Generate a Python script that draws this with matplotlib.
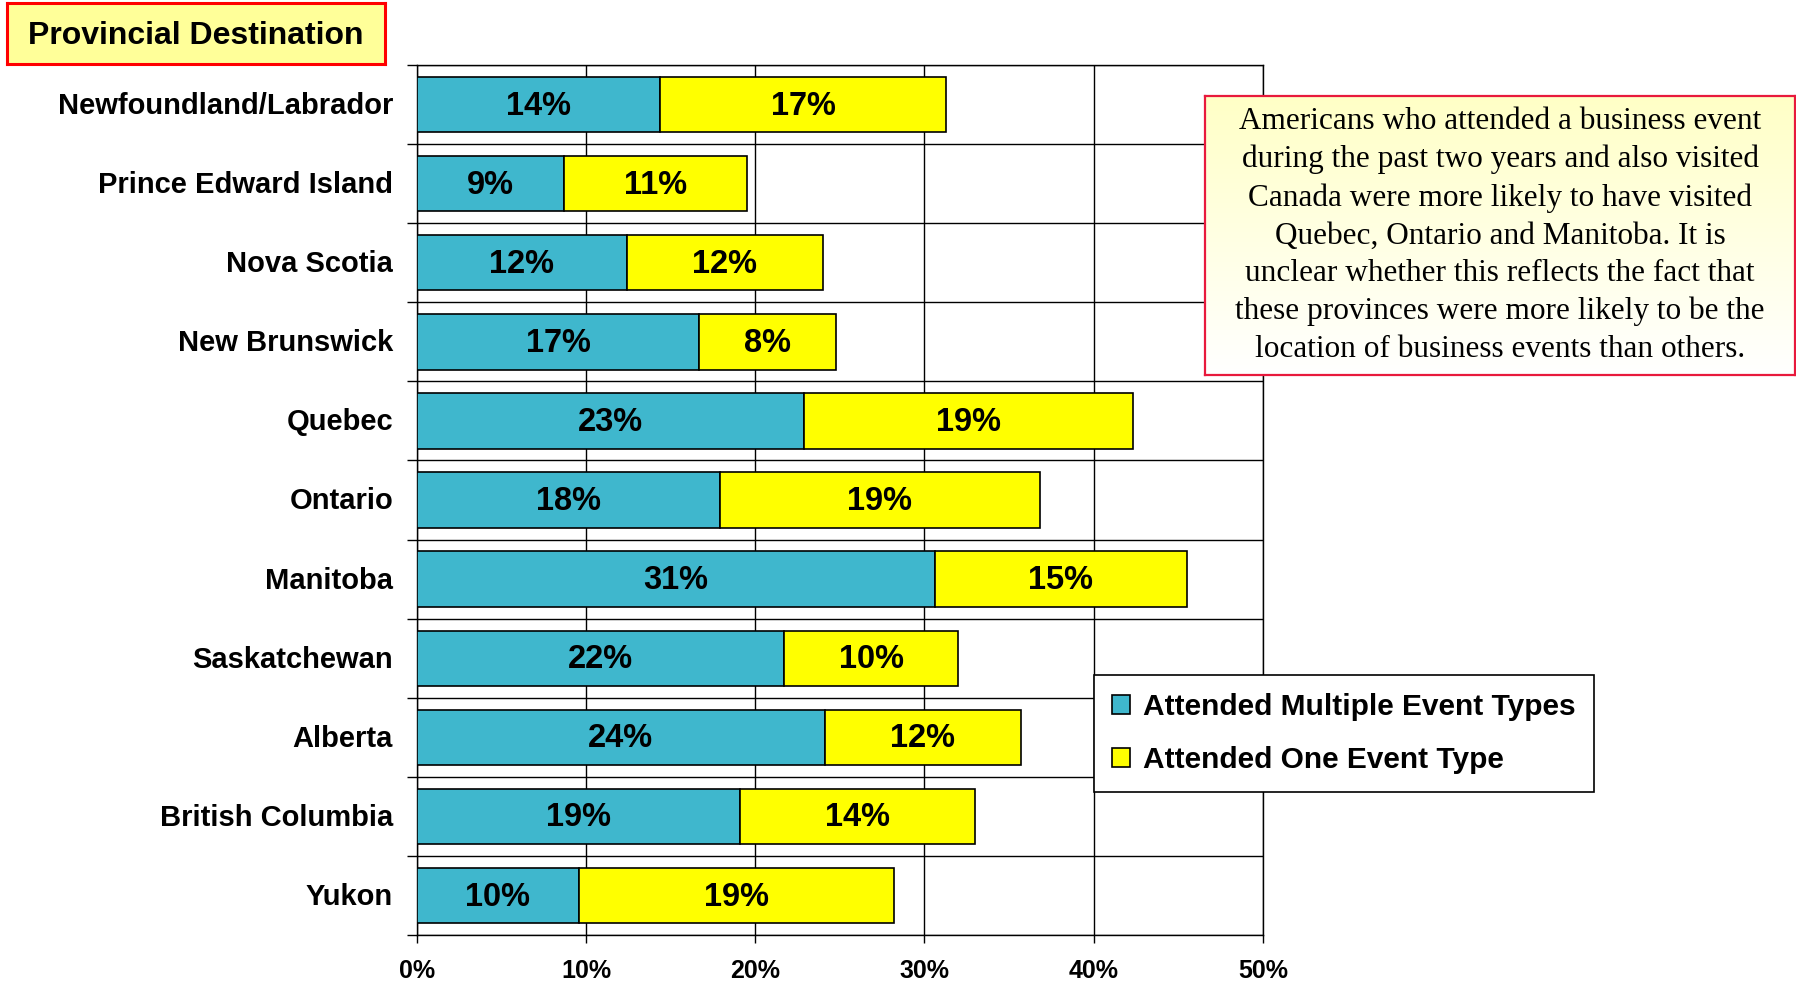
import numpy as np
import matplotlib
matplotlib.use("Agg")
import matplotlib.pyplot as plt
from matplotlib.patches import Patch
from matplotlib.colors import LinearSegmentedColormap
from matplotlib.ticker import FuncFormatter, MultipleLocator

# Share of respondents by province visited (percent)
provinces = ["Newfoundland/Labrador", "Prince Edward Island", "Nova Scotia",
             "New Brunswick", "Quebec", "Ontario", "Manitoba", "Saskatchewan",
             "Alberta", "British Columbia", "Yukon"]
multiple = [14.4, 8.7, 12.4, 16.7, 22.9, 17.9, 30.6, 21.7, 24.1, 19.1, 9.6]
one_type = [16.9, 10.8, 11.6, 8.1, 19.4, 18.9, 14.9, 10.3, 11.6, 13.9, 18.6]
series_names = ["Attended Multiple Event Types", "Attended One Event Type"]
x_ticks = [0, 10, 20, 30, 40, 50]

note = ("Americans who attended a business event\n"
        "during the past two years and also visited\n"
        "Canada were more likely to have visited\n"
        "Quebec, Ontario and Manitoba. It is\n"
        "unclear whether this reflects the fact that\n"
        "these provinces were more likely to be the\n"
        "location of business events than others.")

TEAL = "#3FB7CD"
YELLOW = "#FFFF00"
SANS = ["Liberation Sans", "DejaVu Sans"]
SERIF = ["Liberation Serif", "DejaVu Serif"]

W, H = 1796, 981
fig = plt.figure(figsize=(W / 100, H / 100), dpi=100)


def box(x0, y0, x1, y1):
    # pixel box (top-left origin) -> figure fraction rect
    return [x0 / W, 1 - y1 / H, (x1 - x0) / W, (y1 - y0) / H]


ax = fig.add_axes(box(416.7, 65, 1263, 935))
y = np.arange(len(provinces))
ax.barh(y, multiple, height=0.7, color=TEAL, edgecolor="black", linewidth=1.2, zorder=3)
ax.barh(y, one_type, left=multiple, height=0.7, color=YELLOW, edgecolor="black",
        linewidth=1.2, zorder=3)

for yi, m, o in zip(y, multiple, one_type):
    ax.text(m / 2, yi + 0.02, f"{m:.0f}%", ha="center", va="center", fontsize=23.5,
            fontweight="bold", family=SANS, zorder=4)
    ax.text(m + o / 2, yi + 0.02, f"{o:.0f}%", ha="center", va="center", fontsize=23.5,
            fontweight="bold", family=SANS, zorder=4)

ax.set_xlim(0, 50)
ax.set_ylim(len(provinces) - 0.5, -0.5)
ax.set_xticks(x_ticks)
ax.xaxis.set_major_formatter(FuncFormatter(lambda v, p: f"{v:.0f}%"))
ax.set_yticks(y - 0.02)
ax.set_yticklabels(provinces)
ax.yaxis.set_minor_locator(MultipleLocator(1, offset=0.5))
ax.tick_params(axis="y", which="major", length=0, pad=17)
ax.tick_params(axis="y", which="minor", length=7, width=1.0, direction="out")
ax.tick_params(axis="x", length=6, width=1.0, direction="out", pad=11)
for lbl in ax.get_yticklabels():
    lbl.set_fontsize(21)
    lbl.set_fontweight("bold")
    lbl.set_family(SANS)
for lbl in ax.get_xticklabels():
    lbl.set_fontsize(18)
    lbl.set_fontweight("bold")
    lbl.set_family(SANS)

ax.xaxis.grid(True, color="black", linewidth=1.0, zorder=1)
ax.yaxis.grid(True, which="minor", color="black", linewidth=1.0, zorder=1)
ax.set_axisbelow(True)
for s in ax.spines.values():
    s.set_linewidth(1.0)
    s.set_color("black")

# Title tag in the corner
tax = fig.add_axes(box(6.7, 3.3, 385, 64))
tax.set_facecolor("#FFFF99")
tax.set_xticks([])
tax.set_yticks([])
for s in tax.spines.values():
    s.set_color("red")
    s.set_linewidth(2.2)
tax.text(0.5, 0.46, "Provincial Destination", ha="center", va="center",
         fontsize=23, fontweight="bold", family=SANS, transform=tax.transAxes)

# Note box with a soft yellow gradient
nax = fig.add_axes(box(1205, 96, 1795, 375), zorder=5)
cmap = LinearSegmentedColormap.from_list("note", ["#FFFFC6", "#FFFFFF"])
nax.imshow(np.linspace(0, 1, 200)[:, None], cmap=cmap, aspect="auto",
           extent=[0, 1, 0, 1], origin="upper")
nax.set_xlim(0, 1)
nax.set_ylim(0, 1)
nax.set_xticks([])
nax.set_yticks([])
for s in nax.spines.values():
    s.set_color("#E8193C")
    s.set_linewidth(1.6)
nax.text(0.5, 0.5, note, ha="center", va="center", fontsize=22.5, family=SERIF,
         linespacing=1.39, transform=nax.transAxes)

handles = [Patch(facecolor=TEAL, edgecolor="black", linewidth=1.2),
           Patch(facecolor=YELLOW, edgecolor="black", linewidth=1.2)]
leg = fig.legend(handles, series_names, loc="upper left",
                 bbox_to_anchor=(1094 / W, 1 - 675 / H), frameon=True,
                 fancybox=False, framealpha=1, edgecolor="black",
                 prop={"family": SANS, "weight": "bold", "size": 21.5},
                 handlelength=0.6, handleheight=0.6, handletextpad=0.45,
                 labelspacing=0.85, borderpad=0.6, borderaxespad=0)
leg.get_frame().set_linewidth(1.2)
leg.set_zorder(6)

fig.savefig("out.png", dpi=100)
